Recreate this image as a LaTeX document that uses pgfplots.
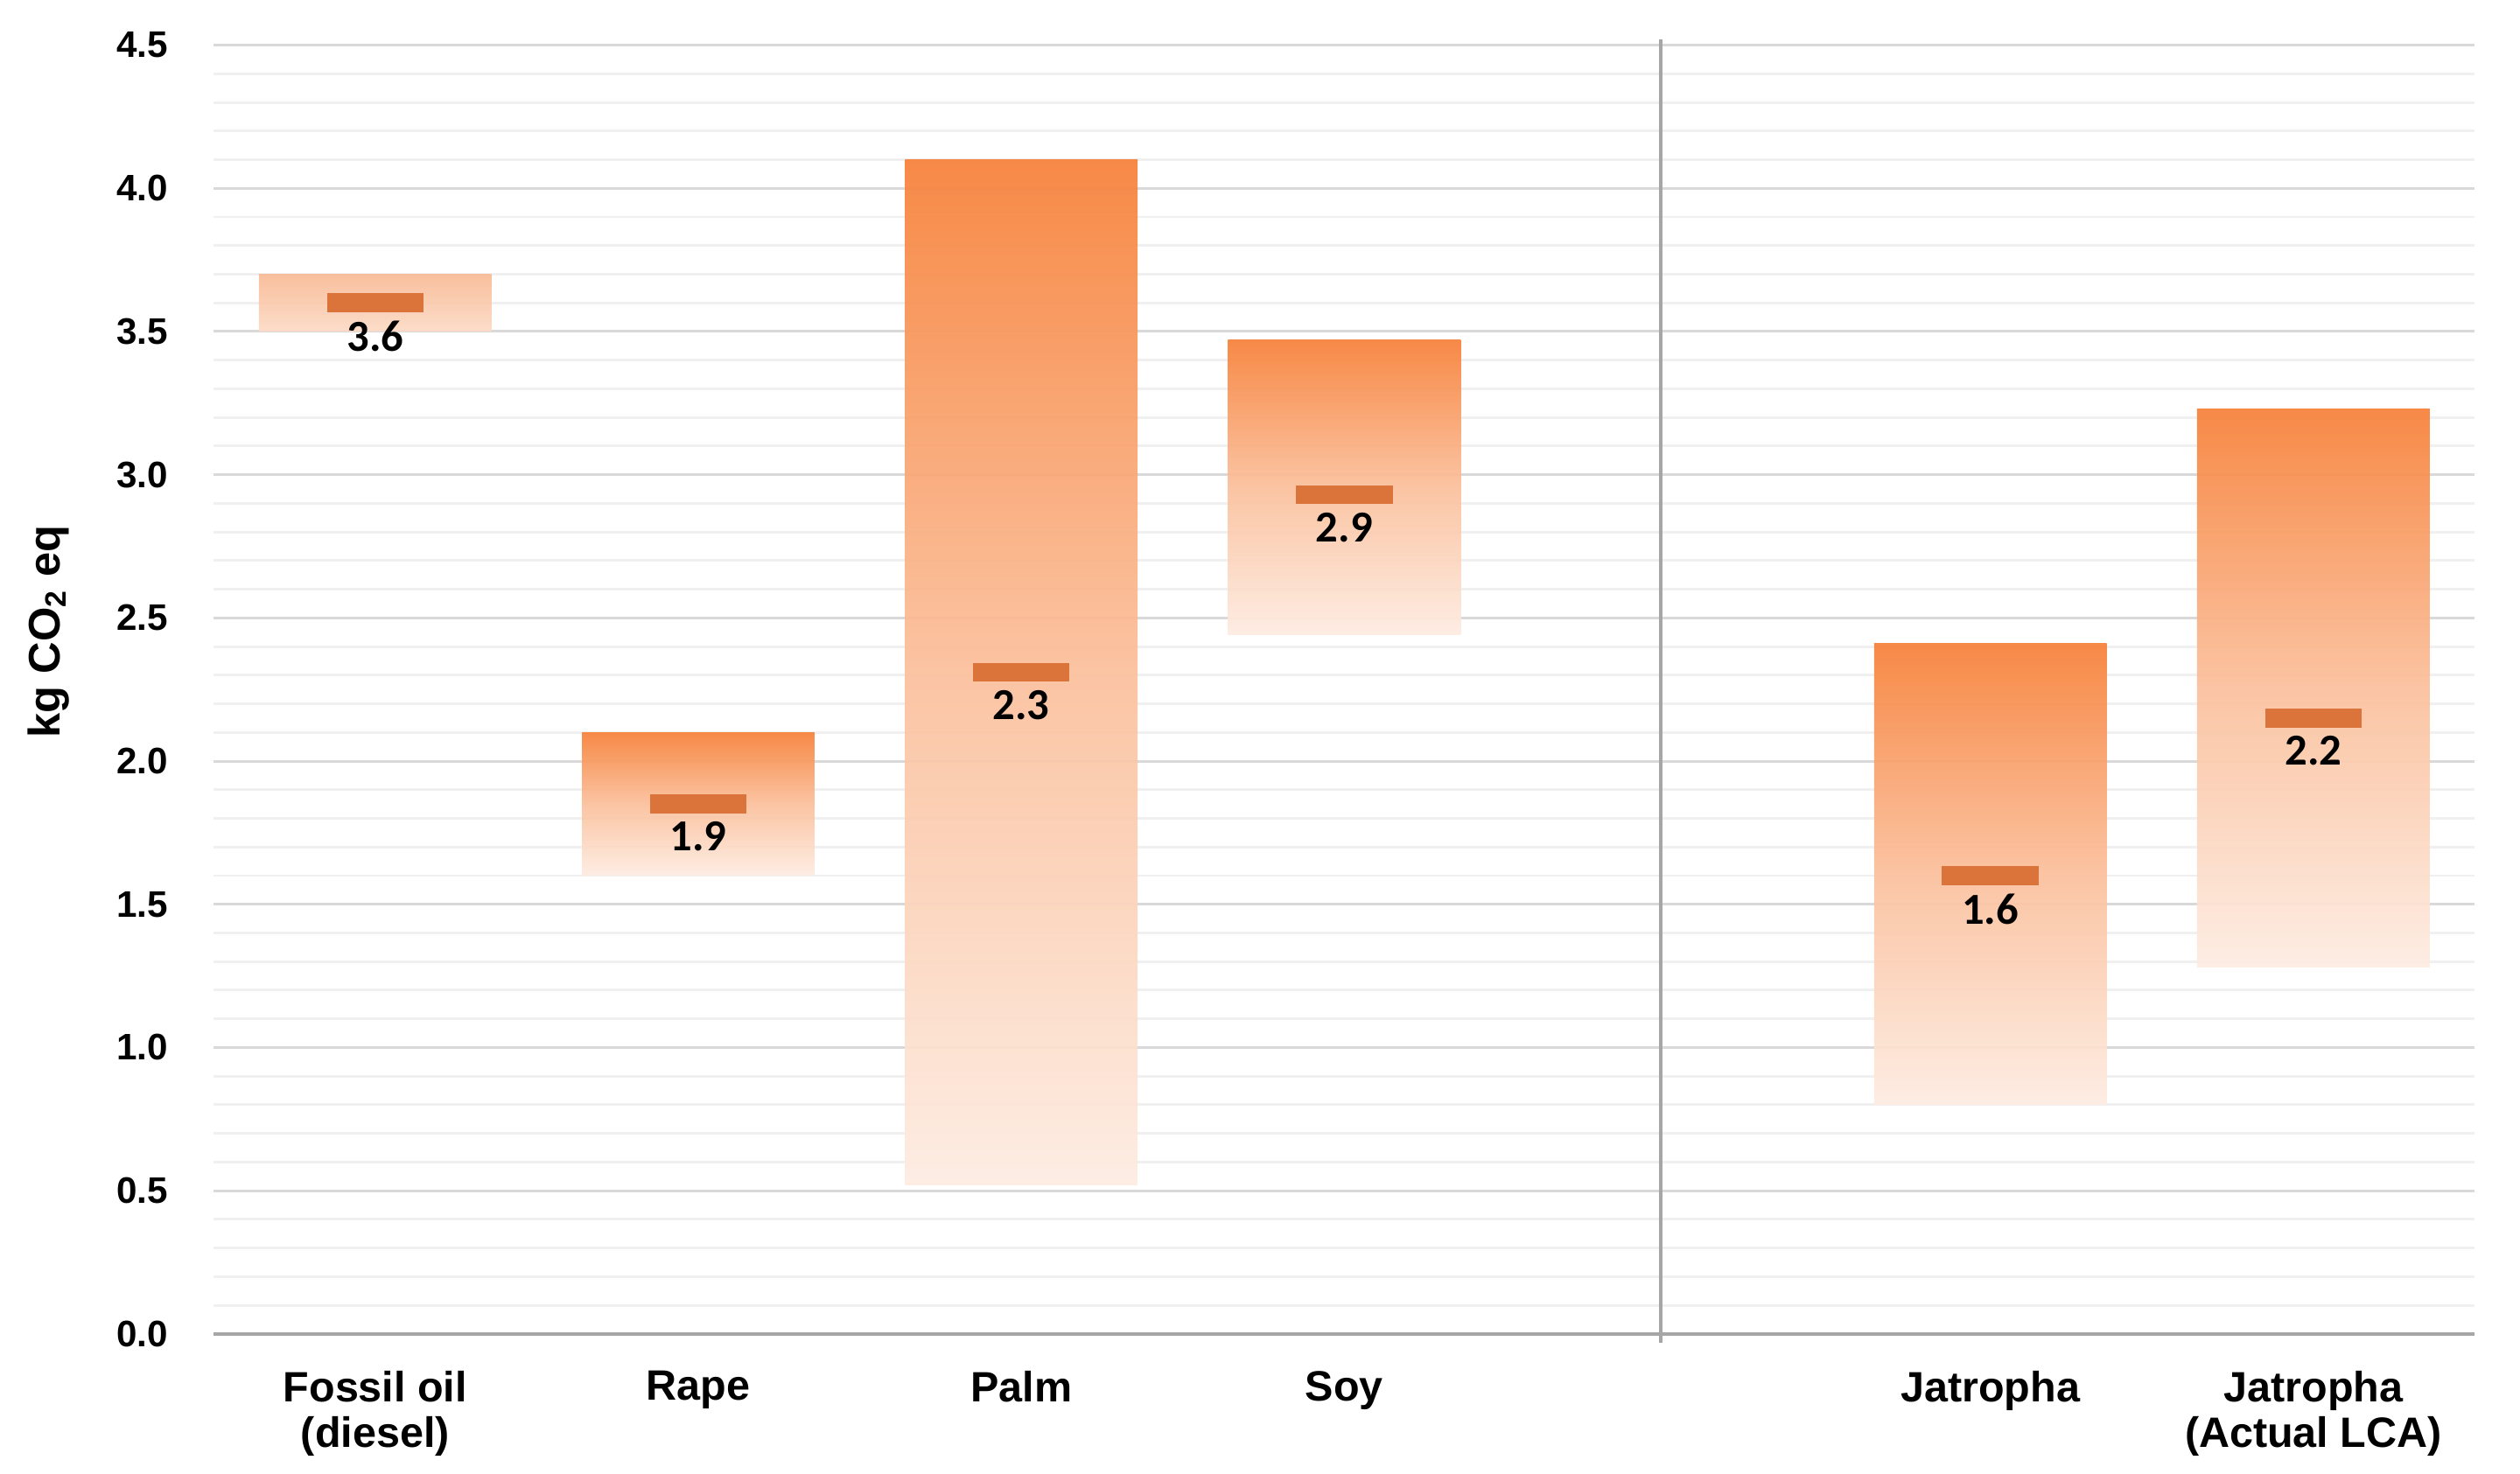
\documentclass[border=0pt]{standalone}
\usepackage{pgfplots}
\pgfplotsset{compat=1.18}
\usepackage{pgfplotstable}
\usepackage{fontspec}
\setmainfont{Liberation Sans}
\newfontfamily\calibri{Carlito}

\definecolor{barTop}{HTML}{F7833D}
\definecolor{barMid}{HTML}{FBC19E}
\definecolor{barBot}{HTML}{FDECE2}
\definecolor{fosTop}{HTML}{F9BC98}
\definecolor{fosMid}{HTML}{FACBAF}
\definecolor{fosBot}{HTML}{FCDBC7}
\definecolor{medC}{HTML}{DA743A}
\definecolor{majGrid}{HTML}{D9D9D9}
\definecolor{minGrid}{HTML}{F0F0F0}
\definecolor{baseC}{HTML}{A6A6A6}

% low / median / high, kg CO2 eq
\pgfplotstableread{
x lo med hi lab
0 3.50 3.60 3.70 3.6
1 1.60 1.85 2.10 1.9
2 0.52 2.31 4.10 2.3
3 2.44 2.93 3.47 2.9
5 0.80 1.60 2.41 1.6
6 1.28 2.15 3.23 2.2
}\gwp

\pgfdeclareplotmark{medbar}{%
  \pgfpathrectangle{\pgfqpoint{-0.46cm}{-0.09cm}}{\pgfqpoint{0.92cm}{0.18cm}}%
  \pgfusepathqfill}

\pgfplotsset{frame/.style={scale only axis, width=21.54cm, height=12.28cm,
  xmin=-0.5, xmax=6.5, ymin=0, ymax=4.5, enlargelimits=false, clip=false}}

% one floating bar (own axis, so that its gradient is its own)
\newcommand\rangebar[4]{%
\begin{axis}[frame, hide axis, ybar stacked, bar width=0.72]
\addplot[draw=none, fill=none, restrict expr to domain={\coordindex}{#1:#1}]
  table[x=x, y=lo] {\gwp};
\addplot[draw=none, top color=#2, bottom color=#4, middle color=#3,
  fill opacity=0.95, restrict expr to domain={\coordindex}{#1:#1}]
  table[x=x, y expr=\thisrow{hi}-\thisrow{lo}] {\gwp};
\end{axis}}

\begin{document}
\begin{tikzpicture}
\begin{axis}[frame, name=ax,
  axis line style={draw=none}, major tick length=0, minor tick length=0,
  ytick={0,0.5,...,4.5}, minor y tick num=4,
  ymajorgrids, yminorgrids,
  major grid style={majGrid, line width=0.7pt},
  minor grid style={minGrid, line width=0.7pt},
  xtick={0,1,2,3,5,6},
  xticklabels={{Fossil oil\\(diesel)},Rape,Palm,Soy,Jatropha,{Jatropha\\(Actual LCA)}},
  xticklabel style={align=center, font=\bfseries\fontsize{11.5}{12.3}\selectfont, yshift=-0.23cm},
  yticklabel style={font=\bfseries\fontsize{10}{12}\selectfont, xshift=-0.31cm,
    /pgf/number format/.cd, fixed, fixed zerofill, precision=1, assume math mode=true},
]
\addplot[draw=none] coordinates {(0,0)};
\draw[baseC, line width=1pt] (rel axis cs:0,0) -- (rel axis cs:1,0);
\draw[baseC, line width=0.9pt] (axis cs:3.98,4.52) -- (axis cs:3.98,-0.03);
\node[rotate=90, font=\bfseries\fontsize{12}{14}\selectfont]
  at ([xshift=-1.577cm]rel axis cs:0,0.545) {kg CO\textsubscript{2} eq};
\end{axis}

\rangebar{0}{fosTop}{fosMid}{fosBot}
\foreach \r in {1,...,5} {\rangebar{\r}{barTop}{barMid}{barBot}}

% medians
\begin{axis}[frame, hide axis]
\addplot[only marks, mark=medbar, color=medC, nodes near coords,
  point meta=explicit symbolic, nodes near coords align={below},
  every node near coord/.append style={yshift=-0.13cm, inner sep=1pt, text=black,
    font=\calibri\bfseries\fontsize{12}{14}\selectfont}]
  table[x=x, y=med, meta=lab] {\gwp};
\end{axis}
\path (ax.south west) ++(-2.036cm,-1.33cm);
\path (ax.north east) ++(0.43cm,0.43cm);
\end{tikzpicture}
\end{document}
